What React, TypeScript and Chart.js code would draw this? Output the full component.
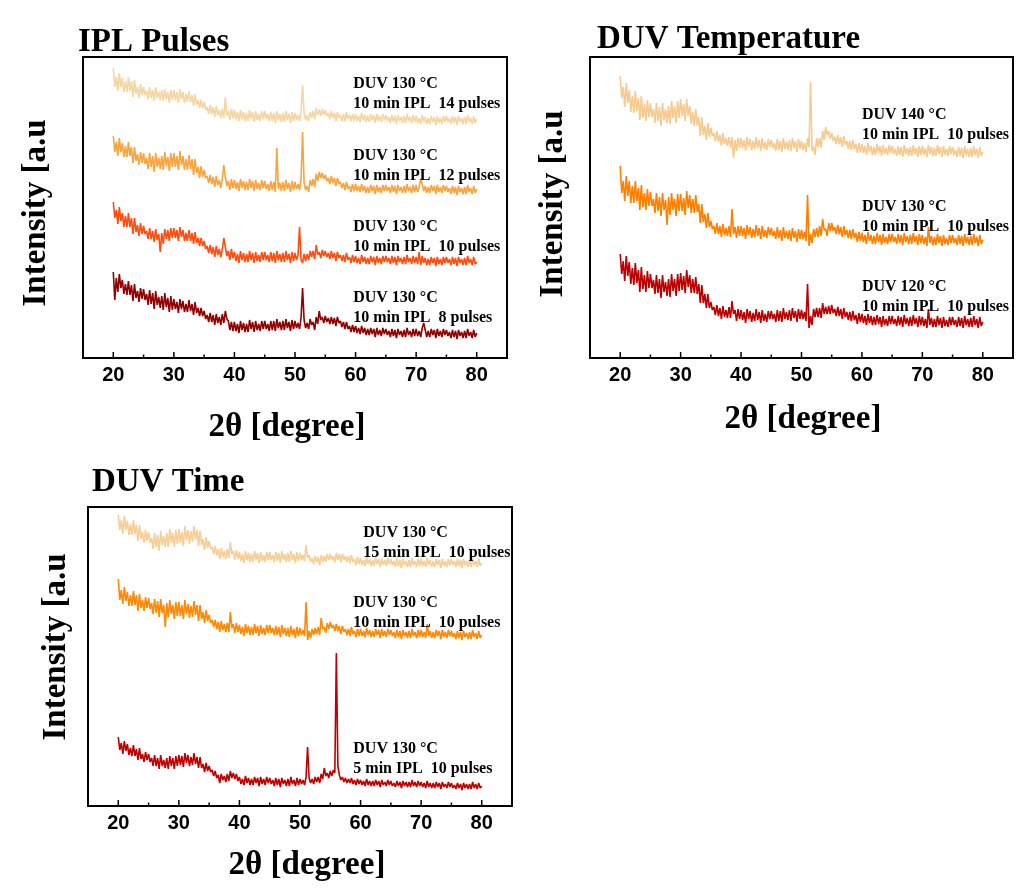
import React, { useEffect, useRef } from 'react';
import { Chart, registerables } from 'chart.js';

Chart.register(...registerables);

// 2θ grid (degrees, 0.25° step), shared by every trace
const angles: number[] = Array.from({ length: 241 }, (_, i) => 20 + i * 0.25);
const xTickValues = [20, 30, 40, 50, 60, 70, 80];
const xMinorTickValues = [25, 35, 45, 55, 65, 75];

// ---------- Panel 1: IPL Pulses (intensity, arbitrary units; one row = 5°) ----------
const ipl14 = [
  290, 271, 281, 267, 285, 271, 280, 266, 277, 266, 281, 267, 277, 261, 278, 264, 271, 260, 274, 263,
  271, 263, 267, 259, 271, 260, 268, 257, 271, 260, 266, 258, 268, 257, 269, 259, 266, 255, 268, 258,
  268, 258, 266, 255, 269, 259, 266, 255, 264, 256, 267, 256, 263, 252, 264, 253, 258, 250, 258, 250,
  256, 248, 251, 244, 253, 244, 251, 241, 252, 243, 248, 240, 249, 240, 261, 242, 247, 238, 249, 240,
  248, 239, 246, 237, 248, 239, 246, 237, 245, 237, 248, 239, 246, 236, 247, 238, 244, 237, 247, 239,
  247, 239, 244, 237, 246, 237, 245, 235, 247, 238, 244, 236, 245, 236, 247, 238, 244, 235, 246, 237,
  245, 238, 243, 237, 246, 273, 245, 238, 243, 237, 246, 240, 247, 239, 250, 243, 248, 242, 249, 243,
  248, 242, 245, 239, 247, 240, 245, 237, 246, 240, 243, 237, 244, 237, 246, 239, 243, 237, 244, 237,
  244, 237, 242, 236, 245, 238, 243, 236, 242, 236, 244, 238, 243, 235, 244, 237, 242, 236, 244, 238,
  243, 237, 241, 235, 243, 236, 242, 234, 243, 237, 241, 235, 242, 235, 244, 237, 241, 235, 243, 236,
  242, 235, 240, 234, 243, 236, 241, 234, 240, 234, 242, 236, 241, 233, 242, 235, 240, 234, 242, 236,
  242, 236, 240, 234, 242, 235, 241, 233, 242, 236, 240, 234, 241, 234, 243, 236, 240, 234, 242, 235,
  239,
];
const ipl12 = [
  222, 206, 216, 202, 220, 206, 215, 201, 212, 201, 216, 202, 211, 195, 211, 197, 204, 193, 206, 195,
  205, 194, 200, 189, 205, 191, 202, 186, 205, 191, 200, 189, 202, 188, 206, 192, 201, 187, 205, 191,
  205, 191, 202, 188, 207, 193, 202, 188, 199, 188, 203, 189, 199, 183, 199, 185, 191, 180, 192, 181,
  188, 180, 182, 175, 183, 174, 181, 171, 182, 173, 178, 170, 179, 193, 181, 172, 177, 168, 179, 170,
  178, 169, 176, 167, 179, 170, 177, 168, 176, 168, 179, 170, 177, 167, 178, 169, 175, 168, 178, 170,
  177, 169, 174, 167, 177, 168, 176, 166, 210, 169, 175, 167, 176, 167, 178, 169, 175, 166, 177, 168,
  176, 169, 174, 168, 179, 226, 175, 168, 172, 166, 178, 172, 179, 171, 184, 177, 186, 180, 185, 179,
  183, 177, 180, 174, 182, 175, 180, 172, 180, 174, 176, 170, 175, 168, 176, 169, 172, 166, 174, 167,
  174, 167, 172, 166, 174, 167, 172, 165, 171, 165, 173, 167, 172, 164, 173, 166, 171, 165, 173, 167,
  173, 167, 171, 165, 173, 166, 172, 164, 173, 167, 171, 165, 172, 165, 174, 167, 171, 165, 173, 166,
  173, 166, 171, 179, 174, 167, 172, 165, 171, 165, 173, 167, 172, 164, 173, 166, 171, 165, 173, 167,
  172, 166, 170, 164, 172, 165, 171, 163, 172, 166, 170, 164, 171, 164, 173, 166, 170, 164, 172, 165,
  169,
];
const ipl10 = [
  156, 140, 148, 134, 151, 137, 145, 131, 142, 131, 145, 131, 140, 124, 140, 126, 133, 122, 135, 124,
  132, 124, 127, 119, 130, 119, 127, 116, 129, 118, 124, 106, 125, 114, 129, 119, 128, 117, 130, 120,
  130, 120, 128, 117, 131, 121, 128, 117, 125, 117, 128, 117, 125, 114, 126, 115, 120, 112, 120, 112,
  117, 109, 112, 105, 113, 104, 111, 101, 112, 103, 109, 101, 109, 120, 111, 102, 107, 98, 109, 100,
  106, 97, 104, 95, 107, 98, 105, 96, 104, 96, 107, 98, 105, 95, 106, 97, 103, 96, 106, 98,
  106, 98, 103, 96, 106, 97, 105, 95, 107, 98, 104, 96, 105, 96, 107, 98, 104, 95, 106, 97,
  105, 98, 103, 131, 98, 95, 104, 97, 104, 98, 107, 101, 107, 99, 113, 103, 106, 100, 108, 102,
  107, 101, 105, 99, 107, 100, 105, 97, 106, 100, 103, 97, 103, 96, 105, 98, 101, 95, 103, 96,
  102, 95, 100, 94, 103, 96, 101, 94, 100, 94, 102, 96, 101, 93, 102, 95, 100, 94, 102, 96,
  102, 96, 100, 94, 102, 95, 101, 93, 102, 96, 100, 94, 101, 94, 103, 96, 100, 94, 102, 95,
  101, 94, 106, 93, 102, 95, 100, 93, 99, 93, 101, 95, 100, 92, 101, 94, 99, 93, 101, 95,
  101, 95, 99, 93, 101, 94, 100, 92, 101, 95, 99, 93, 100, 93, 102, 95, 99, 93, 101, 94,
  96,
];
const ipl8 = [
  86, 58, 80, 66, 84, 70, 78, 64, 74, 63, 77, 63, 73, 57, 74, 60, 67, 56, 70, 59,
  69, 58, 64, 53, 68, 54, 65, 49, 67, 53, 61, 50, 62, 48, 65, 51, 60, 46, 62, 48,
  59, 49, 56, 45, 59, 49, 57, 46, 54, 46, 58, 47, 54, 43, 56, 45, 50, 42, 50, 42,
  47, 39, 43, 36, 45, 36, 43, 33, 44, 35, 41, 33, 44, 35, 47, 39, 37, 28, 36, 27,
  36, 27, 34, 25, 37, 28, 35, 26, 34, 26, 38, 29, 36, 26, 37, 28, 34, 27, 37, 29,
  37, 29, 34, 27, 37, 28, 37, 27, 39, 30, 36, 28, 37, 28, 39, 30, 36, 27, 38, 29,
  37, 30, 35, 29, 40, 70, 38, 30, 35, 29, 39, 33, 36, 28, 41, 34, 47, 38, 41, 35,
  42, 36, 40, 34, 41, 34, 40, 32, 41, 35, 37, 31, 36, 29, 36, 29, 32, 26, 33, 26,
  32, 25, 30, 24, 32, 25, 30, 23, 29, 23, 30, 24, 29, 21, 30, 23, 28, 22, 30, 24,
  29, 23, 27, 21, 29, 22, 28, 20, 29, 23, 27, 21, 28, 21, 30, 23, 27, 21, 29, 22,
  29, 22, 27, 21, 30, 35, 28, 21, 27, 21, 29, 23, 28, 20, 29, 22, 27, 21, 29, 23,
  28, 22, 26, 20, 28, 21, 27, 19, 28, 22, 26, 20, 27, 20, 29, 22, 26, 20, 28, 21,
  25,
];

// ---------- Panel 2: DUV Temperature ----------
const temp140 = [
  282, 260, 271, 251, 275, 255, 268, 246, 262, 245, 267, 247, 260, 238, 262, 240, 254, 237, 258, 241,
  255, 241, 249, 235, 255, 237, 251, 232, 255, 238, 249, 235, 252, 234, 257, 240, 252, 235, 257, 240,
  259, 242, 254, 237, 259, 242, 252, 234, 246, 232, 249, 232, 241, 222, 241, 223, 232, 218, 235, 221,
  230, 222, 225, 217, 227, 216, 223, 212, 225, 214, 220, 212, 221, 210, 221, 200, 218, 207, 220, 210,
  220, 210, 218, 207, 221, 211, 219, 208, 217, 209, 221, 210, 218, 207, 220, 209, 216, 208, 219, 211,
  218, 210, 215, 207, 219, 208, 217, 206, 220, 209, 216, 208, 218, 207, 220, 210, 217, 206, 219, 209,
  217, 208, 215, 206, 220, 211, 276, 207, 211, 203, 220, 211, 220, 210, 227, 218, 231, 223, 227, 219,
  225, 217, 221, 214, 223, 214, 221, 211, 222, 213, 217, 209, 217, 208, 218, 209, 214, 205, 215, 206,
  214, 205, 212, 203, 215, 206, 212, 203, 211, 203, 214, 205, 212, 202, 213, 204, 210, 203, 213, 205,
  212, 204, 209, 202, 212, 203, 211, 201, 213, 204, 210, 202, 211, 202, 213, 204, 210, 201, 212, 203,
  212, 203, 210, 201, 213, 204, 211, 202, 210, 202, 213, 204, 211, 201, 212, 203, 209, 202, 212, 204,
  211, 203, 208, 201, 211, 202, 210, 200, 212, 203, 209, 201, 210, 201, 212, 203, 209, 200, 211, 202,
  206,
];
const temp130 = [
  192, 165, 177, 157, 182, 162, 177, 155, 172, 155, 177, 157, 170, 148, 173, 151, 165, 148, 169, 152,
  166, 152, 159, 145, 165, 147, 161, 142, 165, 148, 158, 133, 161, 143, 165, 148, 159, 142, 164, 147,
  164, 147, 160, 143, 167, 150, 163, 145, 159, 145, 163, 146, 154, 135, 154, 136, 144, 130, 145, 131,
  137, 129, 132, 124, 135, 124, 132, 121, 134, 123, 130, 122, 132, 121, 149, 124, 131, 120, 132, 122,
  132, 122, 130, 119, 133, 123, 131, 120, 129, 121, 133, 122, 130, 119, 132, 121, 128, 120, 131, 123,
  130, 122, 127, 119, 131, 120, 128, 117, 131, 120, 127, 119, 128, 117, 130, 120, 127, 116, 129, 119,
  128, 119, 126, 117, 163, 112, 124, 115, 129, 121, 130, 121, 132, 122, 139, 128, 129, 122, 135, 127,
  135, 127, 131, 124, 133, 124, 131, 121, 132, 123, 128, 120, 128, 119, 129, 120, 125, 116, 126, 117,
  125, 116, 123, 114, 126, 117, 123, 114, 122, 114, 125, 116, 123, 113, 124, 115, 121, 114, 124, 116,
  124, 116, 121, 114, 124, 115, 123, 113, 125, 116, 122, 114, 123, 114, 125, 116, 122, 113, 124, 115,
  123, 114, 121, 112, 131, 115, 122, 113, 121, 113, 124, 115, 122, 112, 123, 114, 120, 113, 123, 115,
  123, 115, 120, 113, 123, 114, 122, 112, 124, 115, 121, 113, 122, 113, 124, 115, 121, 112, 123, 114,
  118,
];
const temp120 = [
  104, 84, 97, 77, 102, 82, 96, 74, 90, 73, 95, 75, 88, 66, 91, 69, 83, 66, 87, 70,
  84, 70, 78, 64, 83, 65, 79, 60, 83, 66, 76, 62, 79, 61, 84, 67, 79, 62, 84, 67,
  85, 68, 82, 65, 88, 71, 83, 65, 79, 65, 81, 64, 74, 55, 73, 55, 64, 50, 64, 50,
  56, 48, 51, 43, 53, 42, 50, 39, 52, 41, 48, 40, 51, 40, 57, 44, 48, 37, 49, 39,
  48, 38, 46, 35, 49, 39, 47, 36, 45, 37, 49, 38, 46, 35, 48, 37, 44, 36, 47, 39,
  47, 39, 44, 36, 48, 37, 47, 36, 50, 39, 46, 38, 48, 37, 50, 40, 47, 36, 49, 39,
  48, 39, 46, 37, 74, 30, 42, 33, 49, 41, 50, 41, 50, 40, 55, 44, 51, 44, 52, 44,
  53, 45, 49, 42, 51, 42, 49, 39, 50, 41, 46, 38, 46, 37, 47, 38, 43, 34, 45, 36,
  44, 35, 42, 33, 44, 35, 42, 33, 41, 33, 43, 34, 41, 31, 42, 33, 39, 32, 42, 34,
  42, 34, 39, 32, 42, 33, 41, 31, 43, 34, 40, 32, 41, 32, 43, 34, 40, 31, 42, 33,
  41, 32, 39, 30, 49, 33, 40, 31, 39, 31, 42, 33, 40, 30, 41, 32, 38, 31, 41, 33,
  41, 33, 38, 31, 41, 32, 40, 30, 42, 33, 39, 31, 40, 31, 42, 33, 39, 30, 41, 32,
  36,
];

// ---------- Panel 3: DUV Time ----------
const time15 = [
  291, 276, 286, 272, 290, 276, 285, 271, 282, 271, 286, 272, 281, 265, 281, 267, 274, 263, 276, 265,
  274, 263, 268, 257, 273, 259, 271, 255, 275, 261, 270, 259, 273, 259, 277, 263, 273, 259, 276, 262,
  277, 263, 274, 260, 280, 266, 276, 262, 275, 264, 280, 266, 276, 260, 275, 261, 267, 256, 269, 258,
  265, 257, 259, 252, 260, 251, 257, 247, 258, 249, 255, 247, 257, 248, 264, 252, 255, 246, 256, 247,
  254, 245, 252, 243, 255, 246, 253, 244, 252, 244, 255, 246, 253, 243, 254, 245, 251, 244, 254, 246,
  254, 246, 251, 244, 254, 245, 253, 243, 255, 246, 252, 244, 253, 244, 255, 246, 252, 243, 254, 245,
  253, 246, 251, 245, 261, 248, 251, 244, 248, 242, 250, 244, 249, 241, 251, 244, 250, 244, 252, 246,
  252, 246, 250, 244, 253, 246, 252, 244, 252, 246, 250, 244, 250, 243, 251, 244, 247, 241, 249, 242,
  248, 241, 246, 240, 249, 242, 247, 240, 246, 240, 248, 242, 247, 239, 248, 241, 246, 240, 248, 242,
  247, 241, 245, 239, 247, 240, 246, 238, 247, 241, 245, 239, 246, 239, 248, 241, 245, 239, 247, 240,
  247, 240, 245, 239, 248, 241, 246, 239, 245, 239, 247, 241, 246, 238, 247, 240, 245, 239, 247, 241,
  247, 241, 245, 239, 247, 240, 246, 238, 247, 241, 245, 239, 246, 239, 248, 241, 245, 239, 247, 240,
  243,
];
const time10 = [
  227, 206, 216, 202, 219, 205, 214, 200, 211, 200, 215, 201, 211, 195, 212, 198, 206, 195, 209, 198,
  208, 197, 203, 192, 207, 193, 205, 189, 207, 193, 201, 179, 203, 189, 206, 192, 201, 187, 204, 190,
  204, 190, 201, 187, 206, 192, 202, 188, 200, 189, 205, 191, 201, 185, 201, 187, 194, 183, 196, 185,
  191, 183, 186, 179, 186, 177, 184, 174, 185, 176, 182, 174, 183, 174, 194, 178, 182, 173, 183, 174,
  181, 172, 179, 170, 182, 173, 180, 171, 179, 171, 182, 173, 180, 170, 181, 172, 178, 171, 181, 173,
  181, 173, 178, 171, 180, 171, 179, 169, 181, 172, 178, 170, 178, 169, 180, 171, 177, 168, 179, 170,
  178, 171, 176, 170, 204, 166, 175, 168, 177, 171, 178, 172, 179, 171, 188, 177, 179, 173, 183, 177,
  184, 178, 181, 175, 182, 175, 180, 172, 180, 174, 177, 171, 177, 170, 179, 172, 175, 169, 177, 170,
  177, 170, 175, 169, 178, 171, 176, 169, 175, 169, 177, 171, 176, 168, 177, 170, 175, 169, 177, 171,
  176, 170, 174, 168, 176, 169, 175, 167, 176, 170, 174, 168, 175, 168, 177, 170, 174, 168, 176, 169,
  176, 169, 174, 168, 182, 170, 175, 168, 174, 168, 176, 170, 175, 167, 176, 169, 174, 168, 176, 170,
  175, 169, 173, 167, 175, 168, 174, 166, 175, 169, 173, 167, 174, 167, 176, 169, 173, 167, 175, 168,
  171,
];
const time5 = [
  69, 56, 63, 52, 65, 55, 62, 51, 58, 50, 61, 50, 57, 46, 58, 47, 52, 44, 54, 46,
  52, 44, 48, 40, 51, 40, 48, 37, 51, 40, 46, 38, 48, 37, 50, 40, 48, 37, 50, 40,
  51, 41, 50, 39, 53, 43, 51, 40, 49, 41, 53, 42, 49, 38, 49, 38, 42, 34, 43, 35,
  40, 34, 36, 30, 35, 28, 31, 23, 32, 26, 30, 24, 32, 25, 35, 28, 33, 27, 32, 25,
  29, 22, 27, 21, 30, 23, 28, 21, 27, 21, 29, 23, 28, 20, 29, 22, 27, 21, 29, 23,
  28, 22, 26, 20, 28, 21, 27, 19, 28, 22, 26, 20, 27, 20, 29, 22, 26, 20, 28, 21,
  27, 22, 26, 21, 29, 59, 28, 23, 27, 22, 29, 24, 29, 23, 32, 27, 38, 30, 33, 28,
  35, 30, 36, 33, 153, 40, 31, 26, 29, 24, 28, 23, 27, 23, 28, 22, 26, 21, 27, 22,
  26, 21, 25, 20, 27, 21, 25, 20, 25, 20, 26, 21, 25, 19, 26, 21, 24, 20, 26, 21,
  25, 20, 23, 19, 25, 20, 24, 18, 25, 20, 24, 19, 24, 19, 26, 20, 24, 19, 25, 20,
  24, 19, 23, 18, 25, 19, 23, 18, 23, 18, 24, 19, 23, 17, 24, 19, 22, 18, 24, 19,
  23, 18, 21, 17, 23, 18, 22, 16, 23, 18, 22, 17, 22, 17, 24, 18, 22, 17, 23, 18,
  20,
];

const Y_TITLE = 'Intensity [a.u';
const X_TITLE = '2θ [degree]';

type Series = { values: number[]; color: string };
type Label = { lines: string[]; x: number; y: number };
type PanelSpec = {
  title: string;
  titleX: number;
  titleY: number;
  yTitleX: number;
  yTitleY: number;
  xTitleX: number;
  xTitleY: number;
  left: number;
  top: number;
  width: number;
  height: number;
  padTop: number;
  padRight: number;
  padLeft: number;
  xAxisH: number;
  yMax: number;
  series: Series[];
  labels: Label[];
};

const panels: PanelSpec[] = [
  {
    title: 'IPL Pulses', titleX: 78, titleY: 51,
    yTitleX: 45, yTitleY: 213, xTitleX: 287, xTitleY: 436,
    left: 0, top: 0, width: 518, height: 450,
    padTop: 57, padRight: 11, padLeft: 83, xAxisH: 92, yMax: 301,
    series: [
      { values: ipl14, color: '#F5D6A2' },
      { values: ipl12, color: '#F9A43E' },
      { values: ipl10, color: '#FF4D0F' },
      { values: ipl8, color: '#920000' },
    ],
    labels: [
      { lines: ['DUV 130 °C', '10 min IPL  14 pulses'], x: 59.6, y: 270 },
      { lines: ['DUV 130 °C', '10 min IPL  12 pulses'], x: 59.6, y: 198 },
      { lines: ['DUV 130 °C', '10 min IPL  10 pulses'], x: 59.6, y: 127 },
      { lines: ['DUV 130 °C', '10 min IPL  8 pulses'], x: 59.6, y: 56 },
    ],
  },
  {
    title: 'DUV Temperature', titleX: 597, titleY: 48,
    yTitleX: 562, yTitleY: 204, xTitleX: 803, xTitleY: 428,
    left: 520, top: 0, width: 516, height: 450,
    padTop: 57, padRight: 23, padLeft: 70, xAxisH: 92, yMax: 301,
    series: [
      { values: temp140, color: '#F7CA8F' },
      { values: temp130, color: '#FF8000' },
      { values: temp120, color: '#BC0000' },
    ],
    labels: [
      { lines: ['DUV 140 °C', '10 min IPL  10 pulses'], x: 60, y: 239 },
      { lines: ['DUV 130 °C', '10 min IPL  10 pulses'], x: 60, y: 147 },
      { lines: ['DUV 120 °C', '10 min IPL  10 pulses'], x: 60, y: 67 },
    ],
  },
  {
    title: 'DUV Time', titleX: 92, titleY: 491,
    yTitleX: 65, yTitleY: 647, xTitleX: 307, xTitleY: 874,
    left: 0, top: 450, width: 518, height: 443,
    padTop: 57, padRight: 6, padLeft: 88, xAxisH: 87, yMax: 299,
    series: [
      { values: time15, color: '#F6CE96' },
      { values: time10, color: '#FF8905' },
      { values: time5, color: '#C00000' },
    ],
    labels: [
      { lines: ['DUV 130 °C', '15 min IPL  10 pulses'], x: 60.45, y: 269 },
      { lines: ['DUV 130 °C', '10 min IPL  10 pulses'], x: 58.8, y: 199 },
      { lines: ['DUV 130 °C', '5 min IPL  10 pulses'], x: 58.8, y: 53 },
    ],
  },
];

const SERIF = '"Liberation Serif", "Times New Roman", serif';
const SANS = '"Liberation Sans", Arial, sans-serif';

function makeDecor(spec: PanelSpec) {
  return {
    id: 'decor',
    afterDraw(chart: any) {
      const { ctx, chartArea: a } = chart;
      const xs = chart.scales.x;
      const ys = chart.scales.y;
      ctx.save();
      ctx.strokeStyle = '#000';
      ctx.lineWidth = 1.5;
      ctx.beginPath();
      xTickValues.forEach((v) => {
        const px = xs.getPixelForValue(v);
        ctx.moveTo(px, a.bottom);
        ctx.lineTo(px, a.bottom - 6);
      });
      xMinorTickValues.forEach((v) => {
        const px = xs.getPixelForValue(v);
        ctx.moveTo(px, a.bottom);
        ctx.lineTo(px, a.bottom - 3.5);
      });
      ctx.stroke();
      ctx.lineWidth = 2;
      ctx.strokeRect(a.left, a.top, a.right - a.left, a.bottom - a.top);
      ctx.fillStyle = '#000';
      ctx.textBaseline = 'alphabetic';
      ctx.textAlign = 'left';
      ctx.font = `bold 33px ${SERIF}`;
      ctx.fillText(spec.title, spec.titleX - spec.left, spec.titleY - spec.top);
      ctx.textAlign = 'center';
      ctx.fillText(X_TITLE, spec.xTitleX - spec.left, spec.xTitleY - spec.top);
      ctx.save();
      ctx.translate(spec.yTitleX - spec.left, spec.yTitleY - spec.top);
      ctx.rotate(-Math.PI / 2);
      ctx.fillText(Y_TITLE, 0, 0);
      ctx.restore();
      ctx.textAlign = 'left';
      ctx.font = `bold 16px ${SERIF}`;
      spec.labels.forEach((l) => {
        const px = xs.getPixelForValue(l.x);
        const py = ys.getPixelForValue(l.y);
        l.lines.forEach((t, i) => ctx.fillText(t, px, py + i * 19.5));
      });
      ctx.restore();
    },
  };
}

function Panel({ spec }: { spec: PanelSpec }) {
  const ref = useRef<HTMLCanvasElement | null>(null);
  useEffect(() => {
    if (!ref.current) return;
    const chart = new Chart(ref.current, {
      type: 'line',
      data: {
        datasets: spec.series.map((s) => ({
          data: s.values.map((v, i) => ({ x: angles[i], y: v })),
          borderColor: s.color,
          borderWidth: 1.6,
          borderJoinStyle: 'bevel',
          pointRadius: 0,
          tension: 0,
          fill: false,
        })),
      },
      options: {
        animation: false,
        responsive: false,
        devicePixelRatio: 1,
        layout: { padding: { top: spec.padTop, right: spec.padRight, left: spec.padLeft, bottom: 0 } },
        plugins: { legend: { display: false }, tooltip: { enabled: false }, title: { display: false } },
        scales: {
          x: {
            type: 'linear',
            min: 15,
            max: 85,
            afterBuildTicks: (s: any) => {
              s.ticks = xTickValues.map((v) => ({ value: v }));
            },
            afterFit: (s: any) => {
              s.height = spec.xAxisH;
            },
            grid: { display: false, drawTicks: false },
            border: { display: false },
            ticks: {
              autoSkip: false,
              maxRotation: 0,
              padding: 5,
              color: '#000',
              font: { family: SANS, weight: 'bold', size: 20 },
            },
            title: { display: false },
          },
          y: {
            type: 'linear',
            display: false,
            min: 0,
            max: spec.yMax,
          },
        },
      } as any,
      plugins: [makeDecor(spec)],
    });
    return () => chart.destroy();
  }, [spec]);
  return (
    <canvas
      ref={ref}
      width={spec.width}
      height={spec.height}
      style={{ position: 'absolute', left: spec.left, top: spec.top, width: spec.width, height: spec.height }}
    />
  );
}

export default function App() {
  return (
    <div style={{ position: 'absolute', left: 0, top: 0, width: 1036, height: 893, background: '#fff' }}>
      {panels.map((p) => (
        <Panel key={p.title} spec={p} />
      ))}
    </div>
  );
}
